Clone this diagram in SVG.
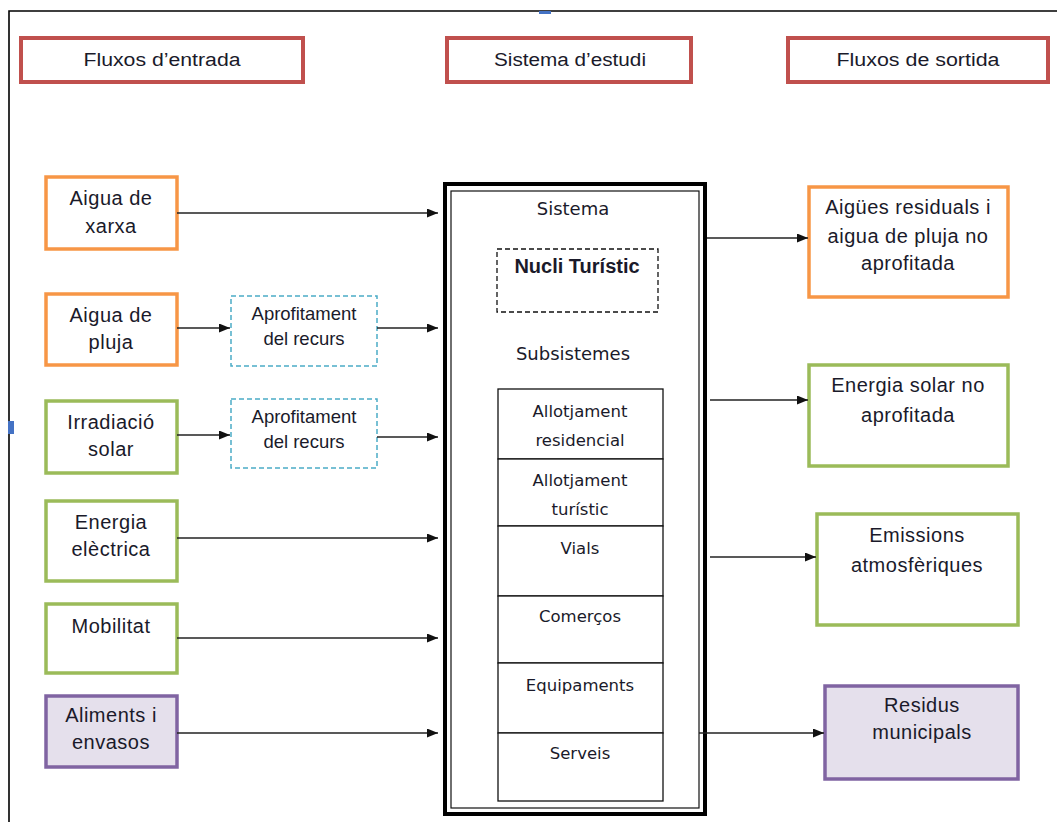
<svg xmlns="http://www.w3.org/2000/svg" width="1057" height="822" viewBox="0 0 1057 822">
<defs>
<marker id="arr" markerUnits="userSpaceOnUse" markerWidth="11" markerHeight="9" refX="11" refY="4.5" orient="auto">
<path d="M0,0 L11,4.5 L0,9 z" fill="#111"/>
</marker>
<style>
.hdr{fill:#fff;stroke:#C0504D;stroke-width:4}
.hdrt{font-family:"Liberation Sans",Arial,sans-serif;font-size:18px;fill:#1a1a2a;text-anchor:middle}
.org{fill:#fff;stroke:#F79646;stroke-width:3.5}
.grn{fill:#fff;stroke:#9BBB59;stroke-width:3.5}
.pur{fill:#E5E0EC;stroke:#8064A2;stroke-width:3.5}
.dsh{fill:#fff;stroke:#4BACC6;stroke-width:1.5;stroke-dasharray:5 3}
.t{font-family:"Liberation Sans",Arial,sans-serif;font-size:20px;letter-spacing:0.5px;fill:#1a1a2a;text-anchor:middle}
.ts{font-family:"Liberation Sans",Arial,sans-serif;font-size:18.5px;fill:#1a1a2a;text-anchor:middle}
.tv{font-family:"DejaVu Sans",Verdana,sans-serif;font-size:18px;fill:#1a1a2a;text-anchor:middle}
.tc{font-family:"DejaVu Sans",Verdana,sans-serif;font-size:16.5px;fill:#1a1a2a;text-anchor:middle}
.tb{font-family:"Liberation Sans",Arial,sans-serif;font-size:20px;font-weight:bold;fill:#1a1a2a;text-anchor:middle}
.cell{fill:#fff;stroke:#111;stroke-width:1.3}
.c{stroke:#222;stroke-width:1.6;fill:none;marker-end:url(#arr)}
</style>
</defs>
<rect width="1057" height="822" fill="#fff"/>
<path d="M9,822 V11 H1057" fill="none" stroke="#000" stroke-width="1.6"/>
<rect x="539" y="11" width="12" height="3" fill="#4472C4"/>
<rect x="8" y="421" width="6" height="13" fill="#4472C4"/>

<g id="hdr-entrada"><rect class="hdr" x="21" y="38" width="282" height="44"/><text class="hdrt" x="162" y="66" textLength="157" lengthAdjust="spacingAndGlyphs">Fluxos d’entrada</text></g>
<g id="hdr-sistema"><rect class="hdr" x="447" y="38" width="244" height="44"/><text class="hdrt" x="570" y="66" textLength="152" lengthAdjust="spacingAndGlyphs">Sistema d’estudi</text></g>
<g id="hdr-sortida"><rect class="hdr" x="788" y="38" width="260" height="44"/><text class="hdrt" x="918" y="66" textLength="163" lengthAdjust="spacingAndGlyphs">Fluxos de sortida</text></g>

<g id="aigua-xarxa"><rect class="org" x="46" y="177" width="131" height="72"/><text class="t" x="111" y="205">Aigua de</text><text class="t" x="111" y="233">xarxa</text></g>
<g id="aigua-pluja"><rect class="org" x="46" y="294" width="131" height="71"/><text class="t" x="111" y="322">Aigua de</text><text class="t" x="111" y="349">pluja</text></g>
<g id="irradiacio"><rect class="grn" x="46" y="401" width="131" height="72"/><text class="t" x="111" y="429">Irradiació</text><text class="t" x="111" y="456">solar</text></g>
<g id="energia-electrica"><rect class="grn" x="46" y="501" width="131" height="80"/><text class="t" x="111" y="529">Energia</text><text class="t" x="111" y="556">elèctrica</text></g>
<g id="mobilitat"><rect class="grn" x="46" y="604" width="131" height="69"/><text class="t" x="111" y="633">Mobilitat</text></g>
<g id="aliments"><rect class="pur" x="46" y="696" width="131" height="71"/><text class="t" x="111" y="722">Aliments i</text><text class="t" x="111" y="749">envasos</text></g>

<g id="aprofitament-1"><rect class="dsh" x="231" y="296" width="146" height="70"/><text class="ts" x="304" y="320">Aprofitament</text><text class="ts" x="304" y="345">del recurs</text></g>
<g id="aprofitament-2"><rect class="dsh" x="231" y="399" width="146" height="69"/><text class="ts" x="304" y="423">Aprofitament</text><text class="ts" x="304" y="448">del recurs</text></g>

<g id="sistema">
<rect x="445" y="184" width="260" height="630" fill="#fff" stroke="#000" stroke-width="4"/>
<rect x="451" y="191" width="248" height="617" fill="none" stroke="#111" stroke-width="1.2"/>
<text class="tv" x="573" y="215">Sistema</text>
<rect x="497" y="249" width="161" height="63" fill="#fff" stroke="#111" stroke-width="1.3" stroke-dasharray="5 3"/>
<text class="tb" x="577" y="273">Nucli Turístic</text>
<text class="tv" x="573" y="360">Subsistemes</text>
</g>
<g id="sub-residencial"><rect class="cell" x="498" y="389" width="165" height="70"/><text class="tc" x="580" y="417">Allotjament</text><text class="tc" x="580" y="446">residencial</text></g>
<g id="sub-turistic"><rect class="cell" x="498" y="459" width="165" height="67"/><text class="tc" x="580" y="486">Allotjament</text><text class="tc" x="580" y="515">turístic</text></g>
<g id="sub-vials"><rect class="cell" x="498" y="526" width="165" height="70"/><text class="tc" x="580" y="554">Vials</text></g>
<g id="sub-comercos"><rect class="cell" x="498" y="596" width="165" height="67"/><text class="tc" x="580" y="622">Comerços</text></g>
<g id="sub-equipaments"><rect class="cell" x="498" y="663" width="165" height="70"/><text class="tc" x="580" y="691">Equipaments</text></g>
<g id="sub-serveis"><rect class="cell" x="498" y="733" width="165" height="68"/><text class="tc" x="580" y="759">Serveis</text></g>

<g id="aigues-residuals"><rect class="org" x="809" y="187" width="199" height="110"/><text class="t" x="908" y="214">Aigües residuals i</text><text class="t" x="908" y="243">aigua de pluja no</text><text class="t" x="908" y="270">aprofitada</text></g>
<g id="energia-solar"><rect class="grn" x="809" y="365" width="199" height="101"/><text class="t" x="908" y="392">Energia solar no</text><text class="t" x="908" y="422">aprofitada</text></g>
<g id="emissions"><rect class="grn" x="817" y="514" width="201" height="111"/><text class="t" x="917" y="542">Emissions</text><text class="t" x="917" y="572">atmosfèriques</text></g>
<g id="residus"><rect class="pur" x="825" y="686" width="193" height="93"/><text class="t" x="922" y="712">Residus</text><text class="t" x="922" y="739">municipals</text></g>

<g id="connectors">
<line class="c" x1="177" y1="213" x2="438" y2="213"/>
<line class="c" x1="177" y1="328" x2="230" y2="328"/>
<line class="c" x1="377" y1="328" x2="438" y2="328"/>
<line class="c" x1="177" y1="435" x2="230" y2="435"/>
<line class="c" x1="377" y1="437" x2="438" y2="437"/>
<line class="c" x1="177" y1="538" x2="438" y2="538"/>
<line class="c" x1="177" y1="638" x2="438" y2="638"/>
<line class="c" x1="177" y1="733" x2="438" y2="733"/>
<line class="c" x1="707" y1="238" x2="808" y2="238"/>
<line class="c" x1="710" y1="400" x2="808" y2="400"/>
<line class="c" x1="710" y1="557" x2="816" y2="557"/>
<line class="c" x1="699" y1="733" x2="824" y2="733"/>
</g>
</svg>
